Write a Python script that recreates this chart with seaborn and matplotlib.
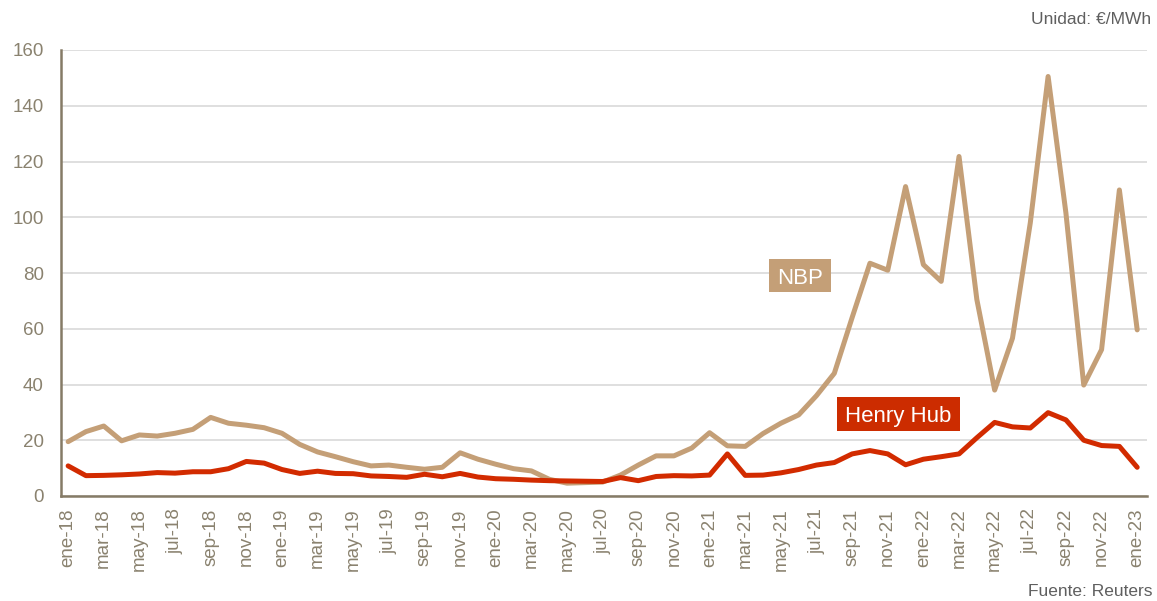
import matplotlib
matplotlib.use("Agg")
import matplotlib.pyplot as plt
from matplotlib.patches import Rectangle
import seaborn as sns
import pandas as pd

# Monthly gas prices, ene-18 .. ene-23 (€/MWh)
month_abbr = ["ene", "feb", "mar", "abr", "may", "jun",
              "jul", "ago", "sep", "oct", "nov", "dic"]
months = [f"{month_abbr[i % 12]}-{18 + i // 12}" for i in range(61)]

nbp = [19.5, 23.1, 25.1, 19.8, 21.9, 21.5, 22.5, 23.9, 28.2, 26.1, 25.4, 24.5,
       22.5, 18.5, 15.8, 14.1, 12.3, 10.8, 11.1, 10.3, 9.6, 10.3, 15.5, 13.2,
       11.4, 9.8, 9.0, 6.0, 4.6, 4.8, 5.0, 7.5, 11.1, 14.4, 14.4, 17.2,
       22.7, 18.0, 17.8, 22.4, 26.1, 29.1, 36.0, 44.0, 64.0, 83.5, 81.0, 111.0,
       83.0, 77.0, 121.8, 70.5, 38.0, 56.6, 98.0, 150.5, 101.5, 39.8, 52.5, 109.8,
       59.6]
henry_hub = [10.8, 7.3, 7.4, 7.6, 7.9, 8.4, 8.2, 8.7, 8.7, 9.8, 12.4, 11.8,
             9.5, 8.1, 8.9, 8.1, 8.0, 7.2, 7.0, 6.7, 7.8, 6.9, 8.1, 6.8,
             6.2, 6.0, 5.7, 5.5, 5.4, 5.3, 5.2, 6.6, 5.5, 7.0, 7.3, 7.2,
             7.5, 15.1, 7.4, 7.5, 8.3, 9.5, 11.1, 12.0, 15.1, 16.3, 15.1, 11.2,
             13.2, 14.1, 15.1, 20.9, 26.4, 24.8, 24.4, 29.9, 27.3, 20.0, 18.1, 17.8,
             10.3]

series_names = ["NBP", "Henry Hub"]
series_colors = {"NBP": "#c49f77", "Henry Hub": "#d22b00"}
box_colors = {"NBP": "#c49f77", "Henry Hub": "#cc2c00"}

df = pd.DataFrame({
    "idx": list(range(len(months))) * 2,
    "precio": nbp + henry_hub,
    "serie": ["NBP"] * len(nbp) + ["Henry Hub"] * len(henry_hub),
})

sns.set_theme(style="white")
plt.rcParams["font.family"] = ["Liberation Sans", "DejaVu Sans"]

W, H = 1157, 601
fig = plt.figure(figsize=(W / 100, H / 100), dpi=100)
ax = fig.add_axes([61 / W, 105 / H, (1147 - 61) / W, (496 - 50) / H])

sns.lineplot(data=df, x="idx", y="precio", hue="serie", hue_order=series_names,
             palette=series_colors, linewidth=3.6, legend=False, ax=ax,
             solid_capstyle="round", solid_joinstyle="round", zorder=3)

ax.set_xlim(-0.4, 60.55)
ax.set_ylim(0, 160)
ax.set_yticks(range(0, 161, 20))
ax.set_xticks(range(0, 61, 2))
ax.set_xticklabels(months[::2], rotation=90)
ax.set_xlabel("")
ax.set_ylabel("")

ax.grid(axis="y", color="#dcdcdc", linewidth=1.3, zorder=0)
ax.grid(axis="x", visible=False)
for side in ("top", "right"):
    ax.spines[side].set_visible(False)
for side in ("left", "bottom"):
    ax.spines[side].set_color("#857b66")
    ax.spines[side].set_linewidth(1.8)
    ax.spines[side].set_zorder(4)

label_color = "#8a826f"
ax.tick_params(axis="y", length=0, pad=12.5, labelsize=13.5, labelcolor=label_color)
ax.tick_params(axis="x", length=0, pad=9, labelsize=13.5, labelcolor=label_color)


def series_tag(name, x0, y0, x1, y1, size):
    """Coloured label box given in figure pixels (top-left origin)."""
    rect = Rectangle((x0 / W, 1 - y1 / H), (x1 - x0) / W, (y1 - y0) / H,
                     transform=fig.transFigure, facecolor=box_colors[name],
                     edgecolor="none", zorder=5)
    fig.add_artist(rect)
    fig.text((x0 + x1) / 2 / W, 1 - (y0 + y1) / 2 / H, name, color="white",
             fontsize=size, ha="center", va="center_baseline", zorder=6)


series_tag("NBP", 769, 259, 831, 292, 16)
series_tag("Henry Hub", 837, 397, 960, 431, 16)

fig.text(1151 / W, 1 - 19 / H, "Unidad: €/MWh", ha="right", va="center",
         fontsize=12.5, color="#5f5f5f")
fig.text(1152 / W, 1 - 592 / H, "Fuente: Reuters", ha="right", va="center",
         fontsize=12.5, color="#5f5f5f")

fig.savefig("out.png", dpi=100)
